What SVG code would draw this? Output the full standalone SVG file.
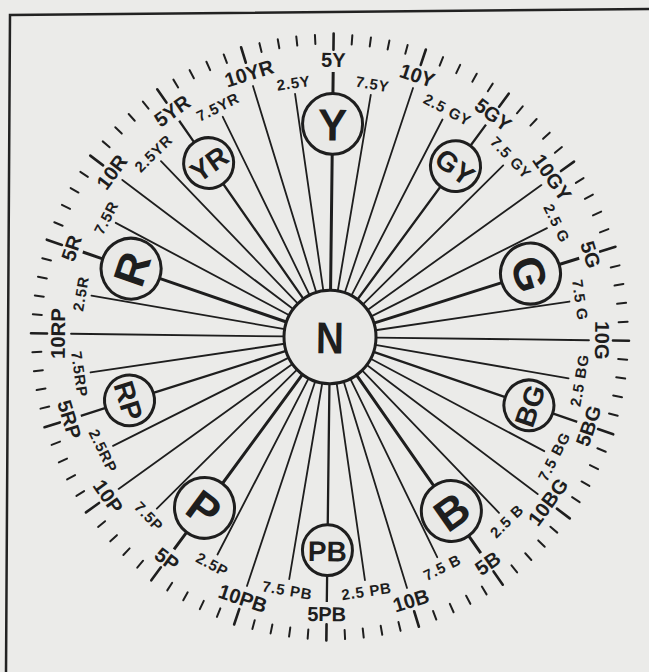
<svg xmlns="http://www.w3.org/2000/svg" xmlns:xlink="http://www.w3.org/1999/xlink" width="649" height="672" viewBox="0 0 649 672">
<style>
text{font-family:"Liberation Sans",Arial,sans-serif;font-weight:bold;fill:#1e1e1e;text-anchor:middle;dominant-baseline:central}
.s{stroke:#1e1e1e;stroke-width:1.8;fill:none;stroke-linecap:round}
.sm{stroke:#1e1e1e;stroke-width:3;fill:none}
.sn{stroke:#1e1e1e;stroke-width:2.3;fill:none}
.tk{stroke:#1e1e1e;stroke-width:2;stroke-linecap:round}
.tl{stroke:#1e1e1e;stroke-width:2.6;stroke-linecap:round}
.hc{fill:#e9e9e7;stroke:#1e1e1e;stroke-width:3}
.lb{font-size:20px}
.ls{font-size:15px;letter-spacing:0.8px}
.hM{font-size:44px}
.hm{font-size:28px}
</style>
<defs>
<line id="tks" class="tk" x1="0" y1="-289" x2="0" y2="-298"/>
<line id="tkl" class="tl" x1="0" y1="-283" x2="0" y2="-299"/>
<g id="tg">
<use xlink:href="#tkl"/>
<use xlink:href="#tks" transform="rotate(3.6)"/>
<use xlink:href="#tks" transform="rotate(7.2)"/>
<use xlink:href="#tks" transform="rotate(10.8)"/>
<use xlink:href="#tks" transform="rotate(14.4)"/>
</g>
</defs>
<rect width="649" height="672" fill="#ebebe9"/>
<polyline points="6,672 10,15 649,9" fill="none" stroke="#222" stroke-width="2.5"/>
<g transform="translate(330,337) scale(1,1.015) rotate(0.7)">
<g id="ticks">
<use xlink:href="#tg"/>
<use xlink:href="#tg" transform="rotate(18)"/>
<use xlink:href="#tg" transform="rotate(36)"/>
<use xlink:href="#tg" transform="rotate(54)"/>
<use xlink:href="#tg" transform="rotate(72)"/>
<use xlink:href="#tg" transform="rotate(90)"/>
<use xlink:href="#tg" transform="rotate(108)"/>
<use xlink:href="#tg" transform="rotate(126)"/>
<use xlink:href="#tg" transform="rotate(144)"/>
<use xlink:href="#tg" transform="rotate(162)"/>
<use xlink:href="#tg" transform="rotate(180)"/>
<use xlink:href="#tg" transform="rotate(198)"/>
<use xlink:href="#tg" transform="rotate(216)"/>
<use xlink:href="#tg" transform="rotate(234)"/>
<use xlink:href="#tg" transform="rotate(252)"/>
<use xlink:href="#tg" transform="rotate(270)"/>
<use xlink:href="#tg" transform="rotate(288)"/>
<use xlink:href="#tg" transform="rotate(306)"/>
<use xlink:href="#tg" transform="rotate(324)"/>
<use xlink:href="#tg" transform="rotate(342)"/>
</g>
<g id="connectors">
<path class="sm" d="M0,-46V-180M0,-240V-261" transform="rotate(0)"/>
<line class="s" y1="-46" y2="-242" transform="rotate(9)"/>
<line class="s" y1="-46" y2="-259" transform="rotate(18)"/>
<line class="s" y1="-46" y2="-242" transform="rotate(27)"/>
<path class="sn" d="M0,-46V-185M0,-235V-261" transform="rotate(36)"/>
<line class="s" y1="-46" y2="-242" transform="rotate(45)"/>
<line class="s" y1="-46" y2="-259" transform="rotate(54)"/>
<line class="s" y1="-46" y2="-242" transform="rotate(63)"/>
<path class="sm" d="M0,-46V-180M0,-240V-261" transform="rotate(72)"/>
<line class="s" y1="-46" y2="-242" transform="rotate(81)"/>
<line class="s" y1="-46" y2="-259" transform="rotate(90)"/>
<line class="s" y1="-46" y2="-242" transform="rotate(99)"/>
<path class="sn" d="M0,-46V-185M0,-235V-261" transform="rotate(108)"/>
<line class="s" y1="-46" y2="-242" transform="rotate(117)"/>
<line class="s" y1="-46" y2="-259" transform="rotate(126)"/>
<line class="s" y1="-46" y2="-242" transform="rotate(135)"/>
<path class="sm" d="M0,-46V-180M0,-240V-261" transform="rotate(144)"/>
<line class="s" y1="-46" y2="-242" transform="rotate(153)"/>
<line class="s" y1="-46" y2="-259" transform="rotate(162)"/>
<line class="s" y1="-46" y2="-242" transform="rotate(171)"/>
<path class="sn" d="M0,-46V-185M0,-235V-261" transform="rotate(180)"/>
<line class="s" y1="-46" y2="-242" transform="rotate(189)"/>
<line class="s" y1="-46" y2="-259" transform="rotate(198)"/>
<line class="s" y1="-46" y2="-242" transform="rotate(207)"/>
<path class="sm" d="M0,-46V-180M0,-240V-261" transform="rotate(216)"/>
<line class="s" y1="-46" y2="-242" transform="rotate(225)"/>
<line class="s" y1="-46" y2="-259" transform="rotate(234)"/>
<line class="s" y1="-46" y2="-242" transform="rotate(243)"/>
<path class="sn" d="M0,-46V-185M0,-235V-261" transform="rotate(252)"/>
<line class="s" y1="-46" y2="-242" transform="rotate(261)"/>
<line class="s" y1="-46" y2="-259" transform="rotate(270)"/>
<line class="s" y1="-46" y2="-242" transform="rotate(279)"/>
<path class="sm" d="M0,-46V-180M0,-240V-261" transform="rotate(288)"/>
<line class="s" y1="-46" y2="-242" transform="rotate(297)"/>
<line class="s" y1="-46" y2="-259" transform="rotate(306)"/>
<line class="s" y1="-46" y2="-242" transform="rotate(315)"/>
<path class="sn" d="M0,-46V-185M0,-235V-261" transform="rotate(324)"/>
<line class="s" y1="-46" y2="-242" transform="rotate(333)"/>
<line class="s" y1="-46" y2="-259" transform="rotate(342)"/>
<line class="s" y1="-46" y2="-242" transform="rotate(351)"/>
</g>
<g id="labels">
<text class="lb" transform="rotate(0) translate(0,-273)">5Y</text>
<text class="ls" transform="rotate(9) translate(0,-253)">7.5Y</text>
<text class="lb" transform="rotate(18) translate(0,-272)">10Y</text>
<text class="ls" transform="rotate(27) translate(0,-253)">2.5 GY</text>
<text class="lb" transform="rotate(36) translate(0,-273)">5GY</text>
<text class="ls" transform="rotate(45) translate(0,-253)">7.5 GY</text>
<text class="lb" transform="rotate(54) translate(0,-272)">10GY</text>
<text class="ls" transform="rotate(63) translate(0,-253)">2.5 G</text>
<text class="lb" transform="rotate(72) translate(0,-273)">5G</text>
<text class="ls" transform="rotate(81) translate(0,-253)">7.5 G</text>
<text class="lb" transform="rotate(90) translate(0,-272)">10G</text>
<text class="ls" transform="rotate(99) translate(0,-253) rotate(180)">2.5 BG</text>
<text class="lb" transform="rotate(108) translate(0,-273) rotate(180)">5BG</text>
<text class="ls" transform="rotate(117) translate(0,-253) rotate(180)">7.5 BG</text>
<text class="lb" transform="rotate(126) translate(0,-272) rotate(180)">10BG</text>
<text class="ls" transform="rotate(135) translate(0,-253) rotate(180)">2.5 B</text>
<text class="lb" transform="rotate(144) translate(0,-273) rotate(180)">5B</text>
<text class="ls" transform="rotate(153) translate(0,-253) rotate(180)">7.5 B</text>
<text class="lb" transform="rotate(162) translate(0,-272) rotate(180)">10B</text>
<text class="ls" transform="rotate(171) translate(0,-253) rotate(180)">2.5 PB</text>
<text class="lb" transform="rotate(180) translate(0,-273) rotate(180)">5PB</text>
<text class="ls" transform="rotate(189) translate(0,-253) rotate(180)">7.5 PB</text>
<text class="lb" transform="rotate(198) translate(0,-272) rotate(180)">10PB</text>
<text class="ls" transform="rotate(207) translate(0,-253) rotate(180)">2.5P</text>
<text class="lb" transform="rotate(216) translate(0,-273) rotate(180)">5P</text>
<text class="ls" transform="rotate(225) translate(0,-253) rotate(180)">7.5P</text>
<text class="lb" transform="rotate(234) translate(0,-272) rotate(180)">10P</text>
<text class="ls" transform="rotate(243) translate(0,-253) rotate(180)">2.5RP</text>
<text class="lb" transform="rotate(252) translate(0,-273) rotate(180)">5RP</text>
<text class="ls" transform="rotate(261) translate(0,-253) rotate(180)">7.5RP</text>
<text class="lb" transform="rotate(270) translate(0,-272)">10RP</text>
<text class="ls" transform="rotate(279) translate(0,-253)">2.5R</text>
<text class="lb" transform="rotate(288) translate(0,-273)">5R</text>
<text class="ls" transform="rotate(297) translate(0,-253)">7.5R</text>
<text class="lb" transform="rotate(306) translate(0,-272)">10R</text>
<text class="ls" transform="rotate(315) translate(0,-253)">2.5YR</text>
<text class="lb" transform="rotate(324) translate(0,-273)">5YR</text>
<text class="ls" transform="rotate(333) translate(0,-253)">7.5YR</text>
<text class="lb" transform="rotate(342) translate(0,-272)">10YR</text>
<text class="ls" transform="rotate(351) translate(0,-253)">2.5Y</text>
</g>
<g id="hue-Y" transform="rotate(0) translate(0,-210)"><circle class="hc" r="30"/><text class="hM" y="1">Y</text></g>
<g id="hue-GY" transform="rotate(36) translate(0,-210)"><circle class="hc" r="25"/><text class="hm" y="1">GY</text></g>
<g id="hue-G" transform="rotate(72) translate(0,-210)"><circle class="hc" r="30"/><text class="hM" y="1">G</text></g>
<g id="hue-BG" transform="rotate(108) translate(0,-210) rotate(180)"><circle class="hc" r="25"/><text class="hm" y="1">BG</text></g>
<g id="hue-B" transform="rotate(144) translate(0,-210) rotate(180)"><circle class="hc" r="30"/><text class="hM" y="1">B</text></g>
<g id="hue-PB" transform="rotate(180) translate(0,-210) rotate(180)"><circle class="hc" r="25"/><text class="hm" y="1">PB</text></g>
<g id="hue-P" transform="rotate(216) translate(0,-210) rotate(180)"><circle class="hc" r="30"/><text class="hM" y="1">P</text></g>
<g id="hue-RP" transform="rotate(252) translate(0,-210) rotate(180)"><circle class="hc" r="25"/><text class="hm" y="1">RP</text></g>
<g id="hue-R" transform="rotate(288) translate(0,-210)"><circle class="hc" r="30"/><text class="hM" y="1">R</text></g>
<g id="hue-YR" transform="rotate(324) translate(0,-210)"><circle class="hc" r="25"/><text class="hm" y="1">YR</text></g>
<g id="node-N"><circle class="hc" r="46"/><text class="hM" y="1" transform="scale(0.88,1)">N</text></g>
</g>
</svg>
